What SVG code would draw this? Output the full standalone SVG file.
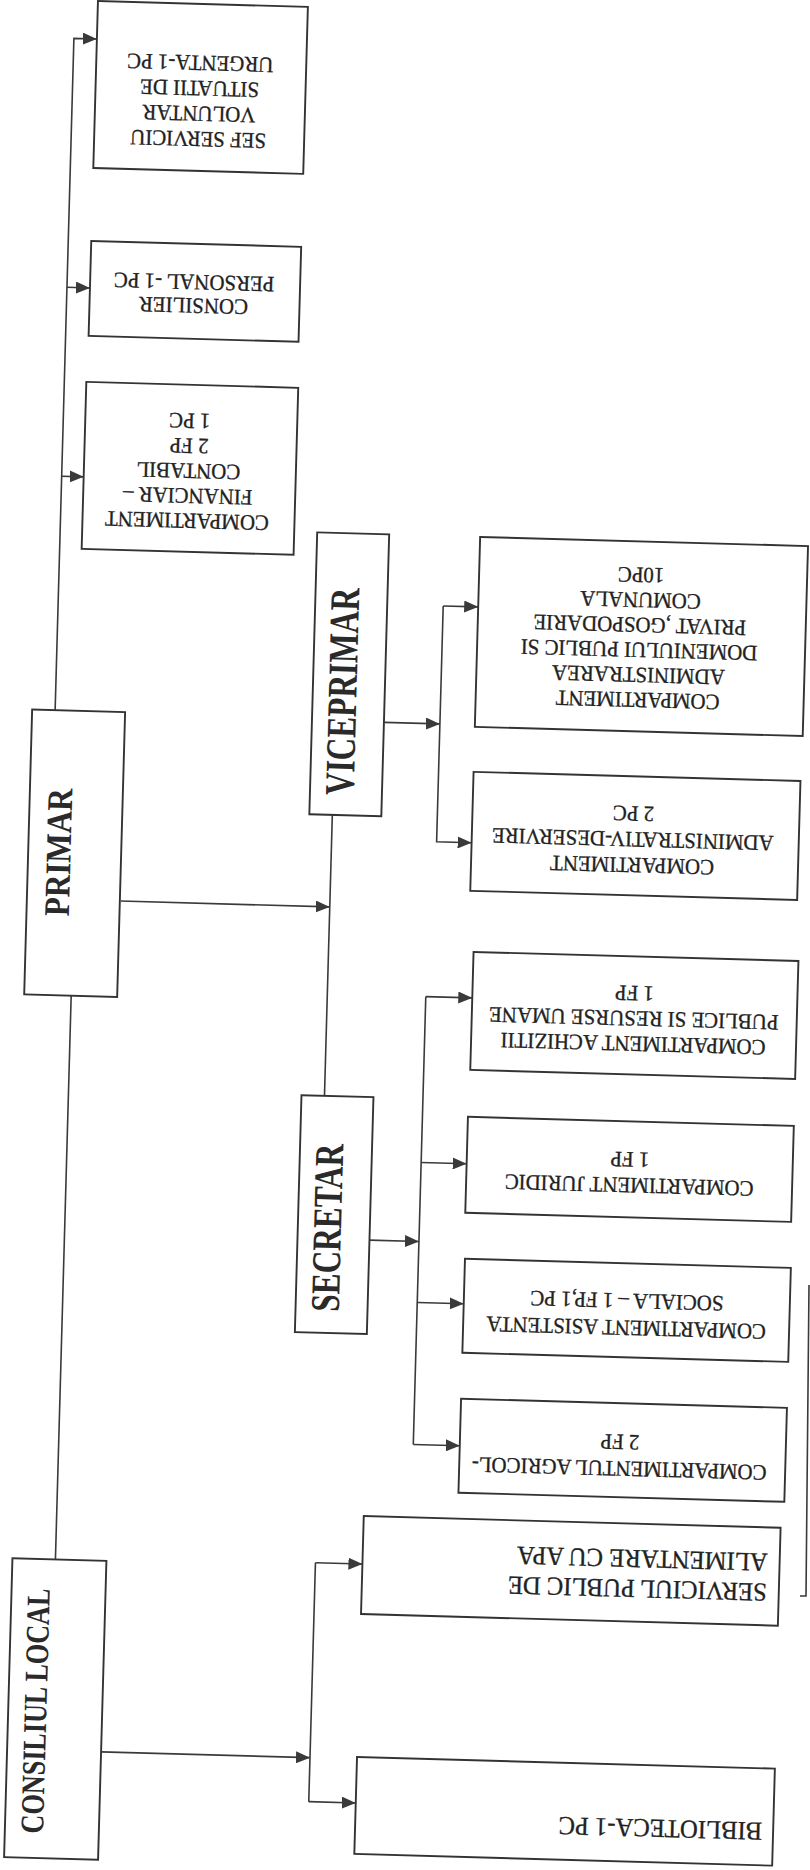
<svg xmlns="http://www.w3.org/2000/svg" width="810" height="1870" viewBox="0 0 810 1870">
<style>
.box{fill:#fff;stroke:#333;stroke-width:1.9}
.ln{fill:none;stroke:#3a3a3a;stroke-width:1.6}
.t{font-family:"Liberation Serif","Times New Roman",serif;font-size:22px;fill:#222;stroke:#222;stroke-width:0.3;text-anchor:middle}
.tb{font-family:"Liberation Serif","Times New Roman",serif;font-size:26px;fill:#222;stroke:#222;stroke-width:0.3;text-anchor:start}
.big{font-family:"Liberation Serif","Times New Roman",serif;font-weight:bold;fill:#2a2a2a;text-anchor:middle}
</style>
<defs>
<marker id="ah" markerUnits="userSpaceOnUse" markerWidth="14" markerHeight="12" refX="14" refY="6" orient="auto">
<path d="M0,0 L14,6 L0,12 Z" fill="#3a3a3a"/>
</marker>
</defs>
<rect width="810" height="1870" fill="#fff"/>
<g transform="rotate(1.6 405 935)">
<g id="connectors">
<path class="ln" d="M49,720 V48 H72" marker-end="url(#ah)"/>
<path class="ln" d="M49,297 H72" marker-end="url(#ah)"/>
<path class="ln" d="M49,486 H71" marker-end="url(#ah)"/>
<path class="ln" d="M73,1005 V1569"/>
<path class="ln" d="M120,909 H329" marker-end="url(#ah)"/>
<path class="ln" d="M329,817 V1098"/>
<path class="ln" d="M378,723 H434" marker-end="url(#ah)"/>
<path class="ln" d="M434,605 V841 H469" marker-end="url(#ah)"/>
<path class="ln" d="M434,605 H469" marker-end="url(#ah)"/>
<path class="ln" d="M378,1241 H427.5" marker-end="url(#ah)"/>
<path class="ln" d="M427.5,996 V1444"/>
<path class="ln" d="M427.5,996 H474" marker-end="url(#ah)"/>
<path class="ln" d="M427.5,1162 H473" marker-end="url(#ah)"/>
<path class="ln" d="M427.5,1302 H474" marker-end="url(#ah)"/>
<path class="ln" d="M427.5,1444 H474" marker-end="url(#ah)"/>
<path class="ln" d="M124,1760 H333" marker-end="url(#ah)"/>
<path class="ln" d="M333,1565 V1804"/>
<path class="ln" d="M333,1565 H380" marker-end="url(#ah)"/>
<path class="ln" d="M333,1804 H380" marker-end="url(#ah)"/>
</g>
<g id="sef-serviciu">
<rect class="box" x="72" y="10" width="210" height="167"/>
<g transform="translate(176 107) rotate(180) scale(0.95 1)">
<text class="t" x="0" y="-30.84">SEF SERVICIU</text>
<text class="t" x="0" y="-5.44">VOLUNTAR</text>
<text class="t" x="0" y="19.96">SITUATII DE</text>
<text class="t" x="0" y="45.36">URGENTA-1 PC</text>
</g>
</g>
<g id="consilier">
<rect class="box" x="72" y="250" width="210" height="95"/>
<g transform="translate(176 300) rotate(180) scale(0.95 1)">
<text class="t" x="0" y="-4.49">CONSILIER</text>
<text class="t" x="0" y="19.01">PERSONAL -1 PC</text>
</g>
</g>
<g id="financiar">
<rect class="box" x="71" y="391" width="212" height="167"/>
<g transform="translate(175.5 477) rotate(180) scale(0.95 1)">
<text class="t" x="0" y="-42.74">COMPARTIMENT</text>
<text class="t" x="0" y="-17.74">FINANCIAR –</text>
<text class="t" x="0" y="7.26">CONTABIL</text>
<text class="t" x="0" y="32.26">2 FP</text>
<text class="t" x="0" y="57.26">1 PC</text>
</g>
</g>
<g id="primar">
<rect class="box" x="26" y="720" width="93" height="285"/>
<text class="big" transform="translate(68.4 862) rotate(-90)" font-size="36" textLength="128" lengthAdjust="spacingAndGlyphs">PRIMAR</text>
</g>
<g id="viceprimar">
<rect class="box" x="306" y="535" width="72" height="282"/>
<text class="big" transform="translate(349.7 693.4) rotate(-90)" font-size="42" textLength="207" lengthAdjust="spacingAndGlyphs">VICEPRIMAR</text>
</g>
<g id="secretar">
<rect class="box" x="306" y="1098" width="72" height="237"/>
<text class="big" transform="translate(349.2 1229.7) rotate(-90)" font-size="41" textLength="168" lengthAdjust="spacingAndGlyphs">SECRETAR</text>
</g>
<g id="consiliul-local">
<rect class="box" x="30" y="1569" width="94" height="299"/>
<text class="big" transform="translate(68.2 1721) rotate(-90)" font-size="33" textLength="245" lengthAdjust="spacingAndGlyphs">CONSILIUL LOCAL</text>
</g>
<g id="administrarea">
<rect class="box" x="469" y="535" width="328" height="190"/>
<g transform="translate(631 631) rotate(180) scale(0.95 1)">
<text class="t" x="0" y="-55.24">COMPARTIMENT</text>
<text class="t" x="0" y="-30.24">ADMINISTRAREA</text>
<text class="t" x="0" y="-5.24">DOMENIULUI PUBLIC SI</text>
<text class="t" x="0" y="19.76">PRIVAT ,GOSPODARIE</text>
<text class="t" x="0" y="44.76">COMUNALA</text>
<text class="t" x="0" y="69.76">10PC</text>
</g>
</g>
<g id="deservire">
<rect class="box" x="469" y="770" width="327" height="119"/>
<g transform="translate(630 833) rotate(180) scale(0.95 1)">
<text class="t" x="0" y="-18.54">COMPARTIMENT</text>
<text class="t" x="0" y="7.26">ADMINISTRATIV-DESERVIRE</text>
<text class="t" x="0" y="33.06">2 PC</text>
</g>
</g>
<g id="achizitii">
<rect class="box" x="474" y="950" width="325" height="118"/>
<g transform="translate(636 1012) rotate(180) scale(0.95 1)">
<text class="t" x="0" y="-18.04">COMPARTIMENT ACHIZITII</text>
<text class="t" x="0" y="7.26">PUBLICE SI RESURSE UMANE</text>
<text class="t" x="0" y="32.56">1 FP</text>
</g>
</g>
<g id="juridic">
<rect class="box" x="473" y="1115" width="326" height="96"/>
<g transform="translate(636 1166) rotate(180) scale(0.95 1)">
<text class="t" x="0" y="-5.59">COMPARTIMENT JURIDIC</text>
<text class="t" x="0" y="20.11">1 FP</text>
</g>
</g>
<g id="asistenta">
<rect class="box" x="474" y="1257" width="326" height="94"/>
<g transform="translate(637 1308) rotate(180) scale(0.95 1)">
<text class="t" x="0" y="-6.24">COMPARTIMENT ASISTENTA</text>
<text class="t" x="0" y="20.76">SOCIALA – 1 FP,1 PC</text>
</g>
</g>
<g id="agricol">
<rect class="box" x="474" y="1397" width="326" height="94"/>
<g transform="translate(634 1449) rotate(180) scale(0.95 1)">
<text class="t" x="0" y="-6.09">COMPARTIMENTUL AGRICOL-</text>
<text class="t" x="0" y="20.61">2 FP</text>
</g>
</g>
<g id="serviciul">
<rect class="box" x="380" y="1517" width="417" height="98"/>
<g transform="translate(785 1567) rotate(180) scale(0.95 1)">
<text class="tb" x="0" y="-6.42">SERVICIUL PUBLIC DE</text>
<text class="tb" x="0" y="23.58">ALIMENTARE CU APA</text>
</g>
</g>
<g id="biblioteca">
<rect class="box" x="380" y="1758" width="418" height="97"/>
<g transform="translate(787 1821) rotate(180) scale(0.95 1)">
<text class="tb" x="0" y="8.58">BIBLIOTECA-1 PC</text>
</g>
</g>
</g>
<path class="ln" d="M809,1285 L806,1596 L800,1596" stroke-width="1.4"/>
</svg>
